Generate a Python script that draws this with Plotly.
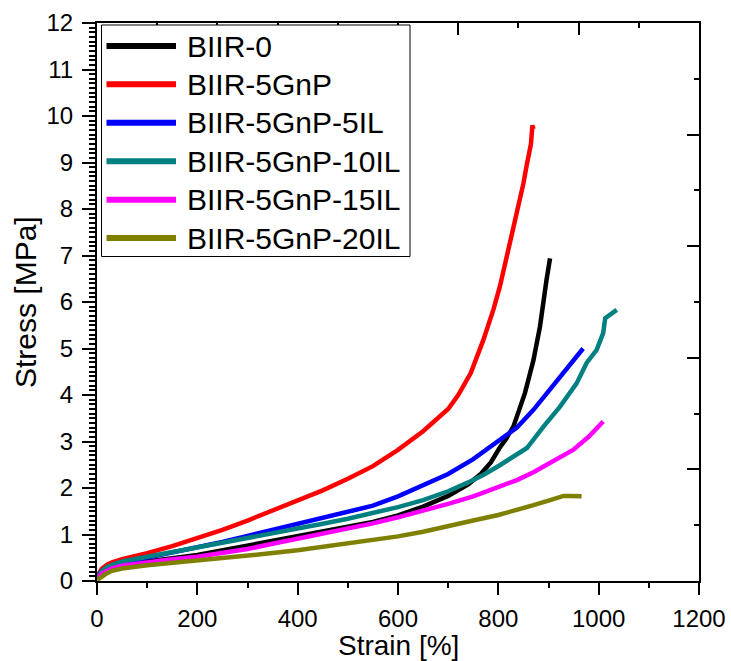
import plotly.graph_objects as go

# Stress-strain curves (strain in %, stress in MPa)
strain_biir0 = [0, 5, 10, 20, 30, 50, 100, 150, 200, 250, 300, 350, 400, 450, 500, 550, 600, 650,
                700, 740, 765, 785, 803, 815, 830, 853, 870, 883, 896, 903]
stress_biir0 = [0.05, 0.12, 0.18, 0.25, 0.30, 0.35, 0.43, 0.49, 0.56, 0.66, 0.76, 0.87, 0.97, 1.06,
                1.16, 1.27, 1.41, 1.60, 1.83, 2.08, 2.30, 2.55, 2.87, 3.05, 3.32, 4.04, 4.75, 5.47,
                6.47, 6.94]

strain_5gnp = [0, 5, 10, 20, 30, 50, 75, 100, 150, 200, 250, 300, 350, 400, 450, 500, 550, 600, 650,
               700, 720, 745, 770, 790, 803, 823, 843, 850, 856, 860, 865, 868, 870]
stress_5gnp = [0.10, 0.20, 0.27, 0.35, 0.40, 0.47, 0.53, 0.60, 0.75, 0.92, 1.10, 1.30, 1.52, 1.72,
               1.95, 2.20, 2.47, 2.82, 3.22, 3.70, 4.00, 4.47, 5.18, 5.83, 6.33, 7.27, 8.19, 8.55,
               8.91, 9.10, 9.40, 9.80, 9.72]

strain_5il = [0, 5, 10, 20, 30, 50, 100, 150, 200, 250, 300, 350, 400, 450, 500, 550, 600, 650, 700,
              750, 770, 800, 837, 870, 903, 936, 969]
stress_5il = [0.08, 0.15, 0.22, 0.28, 0.33, 0.39, 0.50, 0.60, 0.71, 0.84, 0.97, 1.10, 1.23, 1.35,
              1.48, 1.62, 1.82, 2.05, 2.30, 2.62, 2.78, 3.00, 3.30, 3.68, 4.11, 4.54, 5.00]

strain_10il = [0, 5, 10, 20, 30, 50, 100, 150, 200, 250, 300, 350, 400, 450, 500, 550, 600, 650, 700,
               740, 770, 803, 830, 857, 890, 923, 956, 976, 996, 1009, 1013, 1030, 1036]
stress_10il = [0.07, 0.15, 0.22, 0.30, 0.35, 0.42, 0.52, 0.62, 0.71, 0.82, 0.92, 1.02, 1.12, 1.23,
               1.34, 1.46, 1.59, 1.74, 1.93, 2.12, 2.28, 2.49, 2.68, 2.86, 3.32, 3.75, 4.25, 4.69,
               4.97, 5.33, 5.65, 5.80, 5.83]

strain_15il = [0, 5, 10, 20, 30, 50, 100, 150, 200, 250, 300, 350, 400, 450, 500, 550, 600, 650, 700,
               750, 800, 837, 870, 903, 949, 980, 1000, 1009]
stress_15il = [0.05, 0.10, 0.16, 0.22, 0.27, 0.33, 0.41, 0.47, 0.52, 0.60, 0.69, 0.80, 0.91, 1.01,
               1.12, 1.24, 1.37, 1.51, 1.66, 1.82, 2.02, 2.17, 2.34, 2.53, 2.82, 3.10, 3.32, 3.43]

strain_20il = [0, 5, 10, 20, 30, 50, 100, 150, 200, 250, 300, 350, 400, 450, 500, 550, 600, 650, 700,
               750, 800, 850, 870, 900, 930, 945, 966]
stress_20il = [0.02, 0.06, 0.11, 0.17, 0.22, 0.27, 0.34, 0.39, 0.43, 0.49, 0.54, 0.60, 0.66, 0.73,
               0.80, 0.88, 0.96, 1.06, 1.17, 1.30, 1.42, 1.56, 1.63, 1.73, 1.83, 1.83, 1.82]

names = ["BIIR-0", "BIIR-5GnP", "BIIR-5GnP-5IL", "BIIR-5GnP-10IL", "BIIR-5GnP-15IL", "BIIR-5GnP-20IL"]
colors = ["#000000", "#FF0000", "#0000FF", "#008080", "#FF00FF", "#808000"]
strains = [strain_biir0, strain_5gnp, strain_5il, strain_10il, strain_15il, strain_20il]
stresses = [stress_biir0, stress_5gnp, stress_5il, stress_10il, stress_15il, stress_20il]

x_title = "Strain [%]"
y_title = "Stress [MPa]"

FONT = "Arial, Liberation Sans, sans-serif"
W, H = 731, 661
ML, MR, MT, MB = 97, 32, 23, 80
PW, PH = W - ML - MR, H - MT - MB


def px_x(v):
    return (v - ML) / PW


def px_y(v):
    return (H - MB - v) / PH


fig = go.Figure()
for name, xs, ys, c in zip(names, strains, stresses, colors):
    fig.add_trace(go.Scatter(x=xs, y=ys, mode="lines", name=name, showlegend=False,
                             line=dict(color=c, width=4.5)))

# empty trace so the mirrored top/right axes are drawn
fig.add_trace(go.Scatter(x=[], y=[], xaxis="x2", yaxis="y2", showlegend=False, hoverinfo="skip"))

# hand-built legend box
shapes = [dict(type="rect", xref="paper", yref="paper",
               x0=px_x(101.5), x1=px_x(410), y0=px_y(256.5), y1=px_y(25),
               line=dict(color="black", width=1), fillcolor="white", layer="above")]
annotations = []
row_y = [46, 84.3, 122.7, 161.3, 199.7, 238]
for name, c, ry in zip(names, colors, row_y):
    shapes.append(dict(type="line", xref="paper", yref="paper",
                       x0=px_x(106.5), x1=px_x(176), y0=px_y(ry), y1=px_y(ry),
                       line=dict(color=c, width=6), layer="above"))
    annotations.append(dict(text=name, xref="paper", yref="paper", x=px_x(185), y=px_y(ry),
                            xanchor="left", yanchor="middle", showarrow=False,
                            font=dict(family=FONT, size=30, color="black")))

# axis titles
annotations.append(dict(text=x_title, xref="paper", yref="paper", x=0.5, y=px_y(645),
                        xanchor="center", yanchor="middle", showarrow=False,
                        font=dict(family=FONT, size=28, color="black")))
annotations.append(dict(text=y_title, xref="paper", yref="paper", x=px_x(25), y=0.5,
                        xanchor="center", yanchor="middle", textangle=-90, showarrow=False,
                        font=dict(family=FONT, size=30, color="black")))

axis_common = dict(showgrid=False, zeroline=False, showline=True, linecolor="black", linewidth=2,
                   tickcolor="black", tickwidth=2, automargin=False)

fig.update_layout(
    width=W, height=H,
    margin=dict(l=ML, r=MR, t=MT, b=MB, pad=0, autoexpand=False),
    paper_bgcolor="white", plot_bgcolor="white",
    font=dict(family=FONT, color="black"),
    shapes=shapes, annotations=annotations,
    xaxis=dict(range=[0, 1200], dtick=200, ticks="outside", ticklen=12,
               minor=dict(dtick=100, ticks="outside", ticklen=5, tickwidth=2, tickcolor="black"),
               tickfont=dict(size=24), ticklabelstandoff=3,
               **axis_common),
    yaxis=dict(range=[0, 12], dtick=1, ticks="outside", ticklen=13,
               minor=dict(dtick=0.1, ticks="outside", ticklen=6, tickwidth=2, tickcolor="black"),
               tickfont=dict(size=24), ticklabelstandoff=4,
               **axis_common),
    xaxis2=dict(overlaying="x", side="top", range=[0, 1000], dtick=200, ticks="inside", ticklen=12,
                showticklabels=False,
                minor=dict(dtick=100, ticks="inside", ticklen=5, tickwidth=2, tickcolor="black"),
                **axis_common),
    yaxis2=dict(overlaying="y", side="right", range=[0, 10], dtick=2, ticks="inside", ticklen=12,
                showticklabels=False,
                minor=dict(dtick=1, ticks="inside", ticklen=5, tickwidth=2, tickcolor="black"),
                **axis_common),
)

fig.write_html("out.html")
